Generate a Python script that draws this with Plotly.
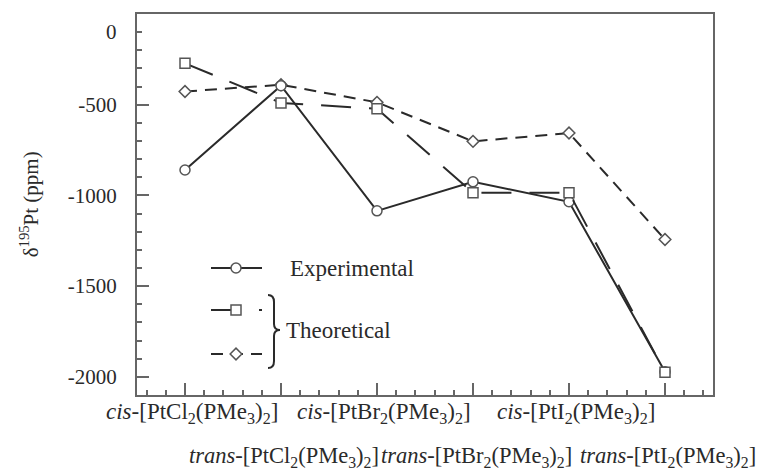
import plotly.graph_objects as go

# ---- data ----
compounds = [
    "<i>cis</i>-[PtCl<sub>2</sub>(PMe<sub>3</sub>)<sub>2</sub>]",
    "<i>trans</i>-[PtCl<sub>2</sub>(PMe<sub>3</sub>)<sub>2</sub>]",
    "<i>cis</i>-[PtBr<sub>2</sub>(PMe<sub>3</sub>)<sub>2</sub>]",
    "<i>trans</i>-[PtBr<sub>2</sub>(PMe<sub>3</sub>)<sub>2</sub>]",
    "<i>cis</i>-[PtI<sub>2</sub>(PMe<sub>3</sub>)<sub>2</sub>]",
    "<i>trans</i>-[PtI<sub>2</sub>(PMe<sub>3</sub>)<sub>2</sub>]",
]
positions = [1, 2, 3, 4, 5, 6]
experimental = [-860, -395, -1085, -925, -1035, -1972]
theoretical_a = [-272, -490, -522, -985, -985, -1975]   # squares, long dash
theoretical_b = [-427, -390, -487, -702, -656, -1243]   # diamonds, short dash
y_tickvals = [-500, -1000, -1500, -2000]
y_ticktext = ["-500", "-1000", "-1500", "-2000"]

FONT = "Liberation Serif"
INK = "#2a2a2a"
FRAME = "#666666"

fig = go.Figure()

fig.add_trace(go.Scatter(
    x=positions, y=theoretical_b, mode="lines+markers",
    line=dict(color=INK, width=2, dash="12px,8px"),
    marker=dict(symbol="diamond", size=9, color="white", line=dict(color="#555", width=1.5)),
    showlegend=False))
fig.add_trace(go.Scatter(
    x=positions, y=experimental, mode="lines+markers",
    line=dict(color=INK, width=2),
    marker=dict(symbol="circle", size=10, color="white", line=dict(color="#555", width=1.5)),
    showlegend=False))
fig.add_trace(go.Scatter(
    x=positions, y=theoretical_a, mode="lines+markers",
    line=dict(color=INK, width=2, dash="30px,18px"),
    marker=dict(symbol="square", size=10, color="white", line=dict(color="#555", width=1.5)),
    showlegend=False))

# ---- hand-drawn legend on an overlay axis in plot-area pixel units ----
PW, PH = 576, 381
leg_x = [74, 99, 125]
leg_rows = [254, 296, 340]
styles = [
    (dict(color=INK, width=2), "circle", 10),
    (dict(color=INK, width=2, dash="30px,18px"), "square", 10),
    (dict(color=INK, width=2, dash="12px,8px"), "diamond", 9),
]
for yy, (ln, sym, sz) in zip(leg_rows, styles):
    fig.add_trace(go.Scatter(
        x=leg_x, y=[yy] * 3, xaxis="x2", yaxis="y2", mode="lines+markers",
        line=ln,
        marker=dict(symbol=sym, size=sz, color="white", line=dict(color="#555", width=1.5)),
        selectedpoints=[1], unselected=dict(marker=dict(opacity=0)),
        showlegend=False, hoverinfo="skip"))

fig.add_shape(type="path", xref="x2", yref="y2",
              path="M 131,281 Q 137,281 137,288 L 137,310 Q 137,316 143,316 "
                   "Q 137,316 137,322 L 137,347 Q 137,354 131,354",
              line=dict(color=INK, width=2))

annotations = [
    dict(x=151, y=254, xref="x2", yref="y2", text="Experimental", showarrow=False,
         xanchor="left", yanchor="middle", font=dict(family=FONT, size=23, color=INK)),
    dict(x=147, y=316, xref="x2", yref="y2", text="Theoretical", showarrow=False,
         xanchor="left", yanchor="middle", font=dict(family=FONT, size=23, color=INK)),
    # the "0" label sits beside the -100 minor tick in the original figure
    dict(x=0, y=-100, xref="paper", yref="y", text="0", showarrow=False,
         xanchor="right", yanchor="middle", xshift=-18,
         font=dict(family=FONT, size=21, color=INK)),
    dict(x=-0.186, y=0.5, xref="paper", yref="paper",
         text="δ<sup>195</sup>Pt (ppm)", textangle=-90, showarrow=False,
         xanchor="center", yanchor="middle", font=dict(family=FONT, size=21, color=INK)),
]
for i, (p, name) in enumerate(zip(positions, compounds)):
    first_row = i % 2 == 0
    annotations.append(dict(
        x=p, y=-0.046 if first_row else -0.164, xref="x", yref="paper",
        text=name, showarrow=False, xanchor="center", yanchor="middle",
        xshift=7 if first_row else 3,
        font=dict(family=FONT, size=23 if first_row else 22.5, color=INK)))

fig.update_layout(
    width=771, height=473,
    margin=dict(l=137, r=58, t=14, b=78),
    paper_bgcolor="white", plot_bgcolor="white",
    font=dict(family=FONT, size=21, color=INK),
    annotations=annotations,
    xaxis=dict(range=[0.5, 6.5], tickvals=positions, showticklabels=False,
               ticks="inside", ticklen=12, tickwidth=2, tickcolor=FRAME,
               minor=dict(ticks="inside", ticklen=5, tickwidth=2, tickcolor=FRAME,
                          dtick=0.2, tick0=0),
               showgrid=False, zeroline=False,
               showline=True, linecolor=FRAME, linewidth=2, mirror=True),
    yaxis=dict(range=[-2100, 0], tickvals=y_tickvals, ticktext=y_ticktext,
               ticks="inside", ticklen=12, tickwidth=2, tickcolor=FRAME,
               ticklabelstandoff=14,
               minor=dict(ticks="inside", ticklen=5, tickwidth=2, tickcolor=FRAME,
                          dtick=100, tick0=0),
               showgrid=False, zeroline=False,
               showline=True, linecolor=FRAME, linewidth=2, mirror=True,
               tickfont=dict(family=FONT, size=21, color=INK)),
    xaxis2=dict(range=[0, PW], overlaying="x", visible=False, fixedrange=True),
    yaxis2=dict(range=[PH, 0], overlaying="y", visible=False, fixedrange=True),
)

fig.write_html("out.html")
